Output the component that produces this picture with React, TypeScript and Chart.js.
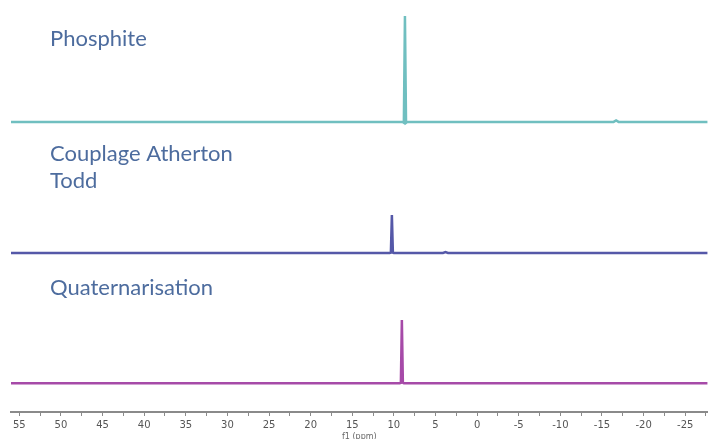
import React, { useEffect, useRef } from "react";
import { Chart, registerables } from "chart.js";

Chart.register(...registerables);

// Chemical shift axis (ppm), reversed
const xMin = -27.7;
const xMax = 56;
const xTickValues = [
  55, 52.5, 50, 47.5, 45, 42.5, 40, 37.5, 35, 32.5, 30, 27.5, 25, 22.5, 20, 17.5, 15, 12.5, 10,
  7.5, 5, 2.5, 0, -2.5, -5, -7.5, -10, -12.5, -15, -17.5, -20, -22.5, -25, -27.5,
];

// Spectra: chemical shifts (ppm) and intensities (arbitrary units)
const phosphiteShift = [56, 8.95, 8.8, 8.67, 8.54, 8.4, -16.4, -16.7, -17.0, -27.7];
const phosphiteIntensity = [0, 0, -0.2, 25.7, -0.2, 0, 0, 0.35, 0, 0];

const couplageShift = [56, 10.5, 10.36, 10.24, 10.12, 10.0, 4.1, 3.8, 3.5, -27.7];
const couplageIntensity = [0, 0, 0.1, 9.2, 0.1, 0, 0, 0.2, 0, 0];

const quaternShift = [56, 9.3, 9.16, 9.04, 8.92, 8.8, -27.7];
const quaternIntensity = [0, 0, 0.1, 15.3, 0.1, 0, 0];

const seriesNames = ["Phosphite", "Couplage Atherton Todd", "Quaternarisation"];
const seriesColors = ["#70bfc0", "#5558a8", "#a64aa8"];
const seriesOffsets = [70.4, 38.6, 7.0];

const toPoints = (xs: number[], ys: number[], off: number) =>
  xs.map((x, i) => ({ x, y: ys[i] + off }));

export default function App() {
  const ref = useRef<HTMLCanvasElement | null>(null);

  useEffect(() => {
    const canvas = ref.current;
    if (!canvas) return;

    const labelPlugin = {
      id: "labels",
      afterDraw(chart: any) {
        const ctx = chart.ctx;
        ctx.save();
        ctx.fillStyle = "#4d6c9e";
        ctx.font = "22px Lato";
        ctx.textBaseline = "alphabetic";
        ctx.textAlign = "left";
        ctx.fillText("Phosphite", 50, 46);
        ctx.fillText("Couplage Atherton", 50, 161);
        ctx.fillText("Todd", 50, 188);
        ctx.fillText("Quaternarisation", 50, 295);
        ctx.restore();
      },
    };

    const chart = new Chart(canvas, {
      type: "line",
      data: {
        datasets: [
          {
            label: seriesNames[0],
            data: toPoints(phosphiteShift, phosphiteIntensity, seriesOffsets[0]),
            borderColor: seriesColors[0],
          },
          {
            label: seriesNames[1],
            data: toPoints(couplageShift, couplageIntensity, seriesOffsets[1]),
            borderColor: seriesColors[1],
          },
          {
            label: seriesNames[2],
            data: toPoints(quaternShift, quaternIntensity, seriesOffsets[2]),
            borderColor: seriesColors[2],
          },
        ].map((d) => ({
          ...d,
          borderWidth: 2.5,
          pointRadius: 0,
          tension: 0,
          fill: false,
        })),
      },
      options: {
        animation: false,
        responsive: false,
        layout: { padding: { left: 11, right: 0, top: 0, bottom: 0 } },
        plugins: { legend: { display: false }, tooltip: { enabled: false } },
        scales: {
          x: {
            type: "linear",
            reverse: true,
            min: xMin,
            max: xMax,
            afterBuildTicks: (axis: any) => {
              axis.ticks = xTickValues.map((value) => ({ value }));
            },
            afterFit: (axis: any) => {
              axis.height = 27;
            },
            border: { color: "#8a8a8a", width: 2 },
            grid: {
              drawOnChartArea: false,
              drawTicks: true,
              tickLength: 4,
              color: "#8a8a8a",
            },
            ticks: {
              autoSkip: false,
              maxRotation: 0,
              padding: 3,
              color: "#555",
              font: { family: "DejaVu Sans", size: 10 },
              callback: (v: any) => (Number(v) % 5 === 0 ? String(v) : ""),
            },
            title: {
              display: true,
              text: "f1 (ppm)",
              color: "#666",
              font: { family: "DejaVu Sans", size: 8 },
              padding: { top: 0, bottom: -3 },
            },
          },
          y: {
            display: false,
            min: 0,
            max: 100,
          },
        },
      },
      plugins: [labelPlugin],
    });

    return () => chart.destroy();
  }, []);

  return (
    <div style={{ position: "absolute", left: 0, top: 0, width: 709, height: 439, background: "#fff" }}>
      <canvas ref={ref} width={709} height={439} style={{ width: 709, height: 439, display: "block" }} />
    </div>
  );
}
